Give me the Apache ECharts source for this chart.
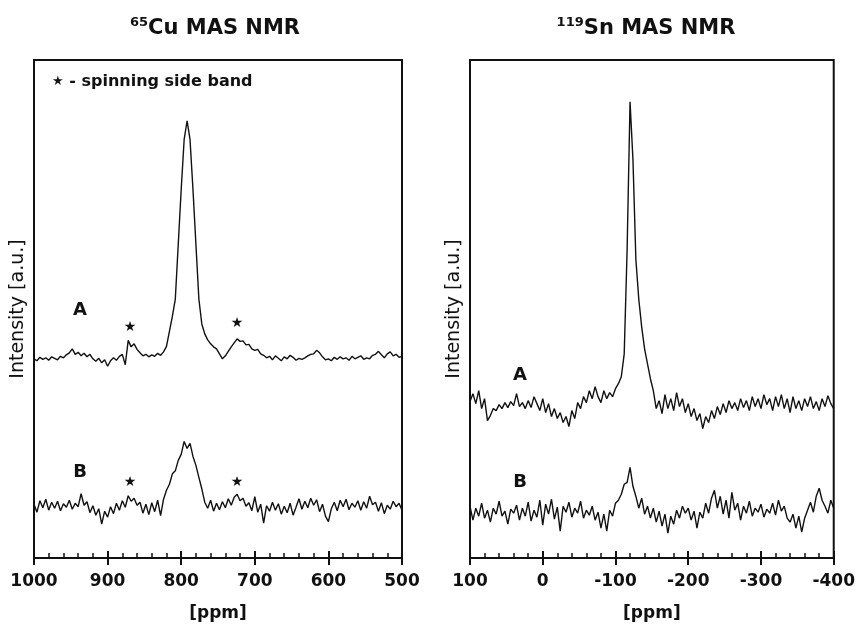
<!DOCTYPE html>
<html>
<head>
<meta charset="utf-8">
<script src="https://cdn.jsdelivr.net/npm/echarts@6/dist/echarts.min.js"></script>
<style>
  html, body { margin: 0; padding: 0; background: #fff; }
  #nmr_chart { width: 858px; height: 627px; }
</style>
</head>
<body>
<div id="nmr_chart"></div>
<script>
// 65Cu spectrum, ppm axis (left panel)
var cuPpm = [
	1000, 996, 992, 988, 984, 980, 976, 972, 968, 964,
	960, 956, 952, 948, 944, 940, 936, 932, 928, 924,
	920, 916, 912, 908, 904, 900, 896, 892, 888, 884,
	880, 876, 872, 868, 864, 860, 856, 852, 848, 844,
	840, 836, 832, 828, 824, 820, 816, 812, 808, 804,
	800, 796, 792, 788, 784, 780, 776, 772, 768, 764,
	760, 756, 752, 748, 744, 740, 736, 732, 728, 724,
	720, 716, 712, 708, 704, 700, 696, 692, 688, 684,
	680, 676, 672, 668, 664, 660, 656, 652, 648, 644,
	640, 636, 632, 628, 624, 620, 616, 612, 608, 604,
	600, 596, 592, 588, 584, 580, 576, 572, 568, 564,
	560, 556, 552, 548, 544, 540, 536, 532, 528, 524,
	520, 516, 512, 508, 504, 500
];
var cuA = [
	40.0, 39.6, 40.3, 39.9, 40.2, 39.7, 40.4, 40.1, 39.8, 40.5,
	40.2, 40.8, 41.2, 42.0, 40.9, 41.3, 40.6, 41.1, 40.4, 40.9,
	40.0, 39.5, 40.1, 39.2, 39.8, 38.5, 39.6, 40.2, 39.7, 40.5,
	40.9, 38.8, 43.7, 42.4, 43.0, 41.9, 41.2, 40.6, 40.9, 40.4,
	40.8, 40.5, 41.1, 40.7, 41.4, 42.5, 45.5, 48.5, 52.0, 63.0,
	74.0, 84.0, 87.8, 84.0, 74.0, 63.0, 52.0, 47.0, 45.0, 43.8,
	43.0, 42.4, 42.0, 41.0, 40.0, 40.6, 41.5, 42.4, 43.2, 44.0,
	43.5, 43.6, 42.8, 42.9, 42.0, 41.7, 41.9, 41.0, 40.7, 40.2,
	40.5, 39.8, 40.6, 40.1, 39.6, 40.4, 40.0, 40.7, 40.3, 39.7,
	40.1, 39.9, 40.2, 40.6, 40.9, 41.0, 41.7, 41.2, 40.4, 39.8,
	40.0, 39.6, 40.3, 39.9, 40.4, 40.0, 40.2, 39.7, 40.5, 40.0,
	40.3, 40.6, 39.9, 40.2, 40.0, 40.7, 40.9, 41.5, 40.8, 40.2,
	41.0, 41.4, 40.6, 40.9, 40.3, 40.5
];
var cuB = [
	10.8, 9.2, 11.5, 10.1, 11.8, 9.6, 11.2, 10.0, 11.4, 9.5,
	10.9, 10.2, 11.6, 9.8, 11.0, 10.3, 12.9, 10.6, 11.3, 9.1,
	10.5, 8.6, 9.9, 6.8, 9.4, 8.2, 10.3, 8.9, 11.0, 9.6,
	11.5, 10.2, 12.5, 11.4, 12.0, 10.6, 11.2, 9.0, 10.8, 8.7,
	11.1, 9.3, 11.6, 8.5, 11.8, 13.6, 14.8, 16.9, 17.5, 19.6,
	20.8, 23.4, 22.0, 23.0, 20.4, 18.6, 16.2, 13.9, 11.2, 10.0,
	11.6, 9.4, 11.0, 9.7, 11.3, 10.1, 11.9, 10.6, 12.2, 12.8,
	11.5, 12.0, 10.4, 11.1, 9.5, 12.3, 9.2, 10.8, 7.0, 10.5,
	9.4, 11.2, 9.6, 10.9, 8.8, 10.4, 9.1, 11.0, 8.6, 10.2,
	11.9, 9.8, 11.4, 10.1, 12.0, 10.6, 11.7, 9.3, 10.8, 8.4,
	7.3, 9.9, 11.2, 9.5, 11.6, 10.3, 11.8, 9.7, 11.0, 10.2,
	11.5, 9.6, 11.3, 10.0, 12.4, 10.7, 11.2, 9.4, 11.1, 8.9,
	10.6, 9.8, 11.4, 10.3, 11.0, 9.6
];

// 119Sn spectrum, ppm axis (right panel)
var snPpm = [
	100, 96, 92, 88, 84, 80, 76, 72, 68, 64,
	60, 56, 52, 48, 44, 40, 36, 32, 28, 24,
	20, 16, 12, 8, 4, 0, -4, -8, -12, -16,
	-20, -24, -28, -32, -36, -40, -44, -48, -52, -56,
	-60, -64, -68, -72, -76, -80, -84, -88, -92, -96,
	-100, -104, -108, -112, -116, -120, -124, -128, -132, -136,
	-140, -144, -148, -152, -156, -160, -164, -168, -172, -176,
	-180, -184, -188, -192, -196, -200, -204, -208, -212, -216,
	-220, -224, -228, -232, -236, -240, -244, -248, -252, -256,
	-260, -264, -268, -272, -276, -280, -284, -288, -292, -296,
	-300, -304, -308, -312, -316, -320, -324, -328, -332, -336,
	-340, -344, -348, -352, -356, -360, -364, -368, -372, -376,
	-380, -384, -388, -392, -396, -400
];
var snA = [
	157, 165, 155, 168, 150, 160, 138, 143, 150, 148,
	154, 150, 156, 151, 157, 153, 165, 152, 156, 150,
	158, 151, 162, 155, 148, 160, 146, 155, 142, 150,
	140, 146, 136, 142, 132, 148, 140, 156, 150, 162,
	156, 168, 160, 172, 162, 156, 168, 160, 166, 162,
	170, 175, 182, 205, 310, 458, 400, 300, 260, 232,
	210, 195, 180, 168, 150, 158, 145, 164, 150, 160,
	148, 166, 152, 160, 146, 155, 142, 150, 138, 145,
	130, 142, 136, 148, 140, 152, 144, 155, 146, 158,
	150, 156, 148, 160, 151, 158, 148, 162, 152, 160,
	150, 164, 154, 160, 148, 162, 152, 164, 150, 160,
	146, 162, 150, 158, 148, 160, 152, 162, 150, 157,
	148, 160, 152, 163, 155, 150
];
var snB = [
	52, 38, 50, 42, 55, 40, 48, 36, 50, 44,
	57, 42, 47, 34, 49, 45, 53, 38, 50, 42,
	56, 37, 48, 41, 58, 33, 54, 44, 59, 39,
	51, 27, 52, 46, 56, 41, 50, 45, 57, 40,
	48, 43, 52, 38, 46, 30, 44, 27, 48, 42,
	55, 58, 64, 74, 76, 91, 72, 62, 50, 60,
	44, 52, 40, 50, 36, 47, 32, 44, 25, 42,
	34, 48, 40, 52, 45, 50, 38, 47, 30, 46,
	40, 55, 45, 60, 68, 50, 62, 44, 58, 40,
	66, 48, 55, 38, 52, 45, 57, 42, 50, 46,
	54, 41, 49, 45, 55, 43, 58, 47, 52, 40,
	36, 44, 30, 42, 26, 40, 48, 56, 46, 62,
	70, 58, 52, 45, 58, 50
];

var FONT = 'DejaVu Sans';
var INK = '#111';

function pairs(xs, ys) {
	var out = [];
	for (var i = 0; i < xs.length; i++) {
		out.push([xs[i], ys[i]]);
	}
	return out;
}

function ppmAxis(grid, min, max) {
	return {
		type : 'value',
		gridIndex : grid,
		min : min,
		max : max,
		interval : 100,
		inverse : true,
		position : 'bottom',
		name : '[ppm]',
		nameLocation : 'middle',
		nameGap : 47,
		nameTextStyle : { fontFamily : FONT, fontWeight : 'bold', fontSize : 17, color : INK },
		axisLine : { show : true, lineStyle : { color : INK, width : 2 } },
		axisTick : { show : true, inside : true, length : 7, lineStyle : { color : INK, width : 2 } },
		minorTick : { show : true, splitNumber : 5, length : 5, lineStyle : { color : INK, width : 1.5 } },
		axisLabel : {
			fontFamily : FONT, fontWeight : 'bold', fontSize : 17, color : INK, margin : 15,
			formatter : function(v) { return String(v); }
		},
		splitLine : { show : false }
	};
}

// second axis only for the outward half of the major ticks
function tickAxis(grid, min, max) {
	return {
		type : 'value',
		gridIndex : grid,
		min : min,
		max : max,
		interval : 100,
		inverse : true,
		position : 'bottom',
		axisLine : { show : false },
		axisTick : { show : true, inside : false, length : 7, lineStyle : { color : INK, width : 2 } },
		axisLabel : { show : false },
		splitLine : { show : false }
	};
}

function intensityAxis(grid, max) {
	return {
		type : 'value',
		gridIndex : grid,
		min : 0,
		max : max,
		name : 'Intensity [a.u.]',
		nameLocation : 'middle',
		nameGap : 6,
		nameTextStyle : { fontFamily : FONT, fontSize : 19, color : INK },
		axisLine : { show : false },
		axisTick : { show : false },
		axisLabel : { show : false },
		splitLine : { show : false }
	};
}

function trace(name, xi, data) {
	return {
		name : name,
		type : 'line',
		xAxisIndex : xi,
		yAxisIndex : xi,
		data : data,
		showSymbol : false,
		lineStyle : { color : '#111', width : 1.4 }
	};
}

function label(text, x, y, size) {
	return {
		type : 'text',
		x : x,
		y : y,
		style : {
			text : text,
			fontFamily : FONT,
			fontWeight : 'bold',
			fontSize : size,
			fill : INK,
			align : 'center',
			verticalAlign : 'middle'
		}
	};
}

function heading(sup, main, x) {
	return {
		type : 'text',
		x : x,
		y : 29,
		style : {
			text : '{s|' + sup + '}{m|' + main + '}',
			align : 'center',
			verticalAlign : 'middle',
			rich : {
				s : { fontFamily : FONT, fontWeight : 'bold', fontSize : 13, fill : INK, lineHeight : 13, verticalAlign : 'top' },
				m : { fontFamily : FONT, fontWeight : 'bold', fontSize : 21, fill : INK, lineHeight : 26 }
			}
		}
	};
}

var nmr_chart = echarts.init(document.getElementById('nmr_chart'));

var option = {
	animation : false,
	backgroundColor : '#fff',
	grid : [
		{ left : 34, top : 60, width : 368, height : 500, show : true, borderColor : INK, borderWidth : 2 },
		{ left : 470, top : 60, width : 364, height : 500, show : true, borderColor : INK, borderWidth : 2 }
	],
	xAxis : [
		ppmAxis(0, 500, 1000),
		ppmAxis(1, -400, 100),
		tickAxis(0, 500, 1000),
		tickAxis(1, -400, 100)
	],
	yAxis : [
		intensityAxis(0, 100),
		intensityAxis(1, 500)
	],
	series : [
		trace('Cu A', 0, pairs(cuPpm, cuA)),
		trace('Cu B', 0, pairs(cuPpm, cuB)),
		trace('Sn A', 1, pairs(snPpm, snA)),
		trace('Sn B', 1, pairs(snPpm, snB))
	],
	graphic : [
		heading('65', 'Cu MAS NMR', 215),
		heading('119', 'Sn MAS NMR', 646),
		{
			type : 'text',
			x : 52,
			y : 82,
			style : {
				text : '{s|★}{t| - spinning side band}',
				align : 'left',
				verticalAlign : 'middle',
				rich : {
					s : { fontFamily : FONT, fontSize : 13, fill : INK },
					t : { fontFamily : FONT, fontWeight : 'bold', fontSize : 16, fill : INK }
				}
			}
		},
		label('A', 80, 310, 18),
		label('B', 80, 472, 18),
		label('★', 130, 327, 14),
		label('★', 237, 323, 14),
		label('★', 130, 482, 14),
		label('★', 237, 482, 14),
		label('A', 520, 375, 18),
		label('B', 520, 482, 18)
	]
};
nmr_chart.setOption(option);
</script>
</body>
</html>
